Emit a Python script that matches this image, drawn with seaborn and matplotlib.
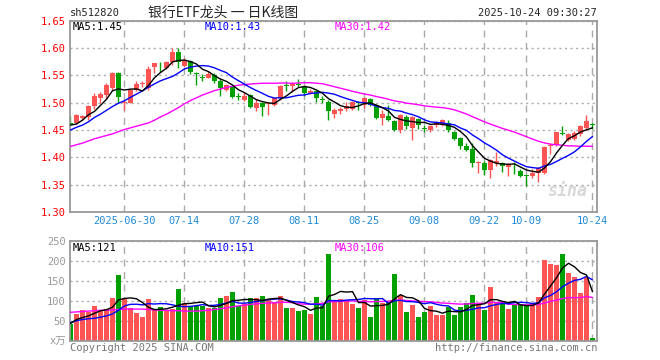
import numpy as np
import pandas as pd
import matplotlib
matplotlib.use("Agg")
import matplotlib.pyplot as plt
import seaborn as sns

# daily candles 2025-06-17 .. 2025-10-24 (88 trading days)
opens = [1.463, 1.463, 1.472, 1.474, 1.494, 1.508, 1.514, 1.527, 1.554, 1.500,
         1.500, 1.524, 1.534, 1.527, 1.565, 1.573, 1.563, 1.574, 1.593, 1.567,
         1.576, 1.554, 1.546, 1.546, 1.550, 1.539, 1.524, 1.528, 1.512, 1.505,
         1.514, 1.490, 1.500, 1.498, 1.496, 1.508, 1.532, 1.530, 1.534, 1.528,
         1.518, 1.522, 1.507, 1.502, 1.480, 1.484, 1.488, 1.488, 1.501, 1.496,
         1.507, 1.495, 1.472, 1.476, 1.466, 1.450, 1.473, 1.453, 1.470, 1.454,
         1.450, 1.459, 1.461, 1.463, 1.446, 1.435, 1.420, 1.415, 1.389, 1.390,
         1.376, 1.389, 1.390, 1.383, 1.381, 1.375, 1.367, 1.366, 1.371, 1.372,
         1.421, 1.423, 1.444, 1.431, 1.434, 1.442, 1.454, 1.461]
highs = [1.475, 1.479, 1.478, 1.495, 1.518, 1.520, 1.536, 1.556, 1.557, 1.505,
         1.525, 1.539, 1.539, 1.568, 1.573, 1.575, 1.576, 1.600, 1.600, 1.582,
         1.579, 1.556, 1.553, 1.558, 1.555, 1.543, 1.534, 1.530, 1.517, 1.520,
         1.516, 1.507, 1.501, 1.500, 1.509, 1.533, 1.540, 1.537, 1.544, 1.530,
         1.525, 1.524, 1.512, 1.505, 1.490, 1.492, 1.502, 1.503, 1.503, 1.510,
         1.509, 1.498, 1.486, 1.496, 1.468, 1.479, 1.478, 1.476, 1.472, 1.460,
         1.460, 1.466, 1.470, 1.469, 1.449, 1.437, 1.426, 1.426, 1.393, 1.393,
         1.397, 1.409, 1.392, 1.389, 1.392, 1.378, 1.367, 1.378, 1.383, 1.421,
         1.427, 1.446, 1.458, 1.445, 1.448, 1.460, 1.477, 1.462]
lows = [1.460, 1.461, 1.468, 1.468, 1.488, 1.500, 1.506, 1.524, 1.500, 1.487,
        1.499, 1.521, 1.528, 1.524, 1.555, 1.557, 1.561, 1.569, 1.564, 1.565,
        1.552, 1.532, 1.540, 1.545, 1.536, 1.513, 1.521, 1.508, 1.505, 1.503,
        1.491, 1.484, 1.476, 1.478, 1.494, 1.505, 1.522, 1.520, 1.528, 1.512,
        1.515, 1.502, 1.500, 1.469, 1.472, 1.480, 1.484, 1.486, 1.486, 1.490,
        1.494, 1.470, 1.459, 1.466, 1.449, 1.445, 1.452, 1.432, 1.451, 1.446,
        1.447, 1.455, 1.458, 1.446, 1.432, 1.416, 1.411, 1.382, 1.372, 1.368,
        1.363, 1.384, 1.374, 1.365, 1.370, 1.364, 1.347, 1.362, 1.354, 1.370,
        1.407, 1.420, 1.440, 1.429, 1.432, 1.439, 1.450, 1.452]
closes = [1.461, 1.477, 1.476, 1.494, 1.512, 1.516, 1.533, 1.554, 1.511, 1.502,
          1.524, 1.535, 1.535, 1.562, 1.572, 1.572, 1.574, 1.593, 1.575, 1.576,
          1.557, 1.553, 1.545, 1.553, 1.539, 1.526, 1.532, 1.511, 1.510, 1.513,
          1.493, 1.500, 1.493, 1.499, 1.508, 1.531, 1.531, 1.535, 1.533, 1.518,
          1.522, 1.508, 1.505, 1.484, 1.487, 1.489, 1.494, 1.502, 1.499, 1.508,
          1.496, 1.472, 1.479, 1.469, 1.450, 1.477, 1.458, 1.473, 1.460, 1.452,
          1.458, 1.464, 1.468, 1.450, 1.434, 1.420, 1.414, 1.389, 1.392, 1.376,
          1.395, 1.393, 1.384, 1.388, 1.380, 1.366, 1.366, 1.372, 1.380, 1.419,
          1.423, 1.446, 1.442, 1.442, 1.445, 1.457, 1.466, 1.460]
# volume in 万 (10k)
volumes = [43, 66, 76, 72, 86, 74, 80, 106, 164, 104,
           81, 69, 59, 104, 76, 84, 76, 79, 129, 94,
           88, 86, 86, 82, 81, 106, 111, 121, 86, 91,
           106, 108, 111, 104, 98, 111, 81, 83, 74, 76,
           66, 109, 86, 218, 99, 104, 101, 91, 81, 101,
           59, 106, 94, 96, 166, 114, 71, 89, 59, 71,
           86, 64, 64, 85, 64, 84, 94, 114, 94, 76,
           134, 96, 91, 79, 91, 91, 86, 94, 109, 203,
           191, 189, 216, 169, 159, 119, 159, 6]

# moving-average values before enough history exists
ma5_head = [1.459, 1.461, 1.468, 1.478]
ma10_head = [1.450, 1.455, 1.459, 1.465, 1.473, 1.479, 1.486, 1.493, 1.499]
ma30_head = [1.420, 1.423, 1.426, 1.430, 1.434, 1.437, 1.440, 1.443, 1.447, 1.451,
             1.454, 1.457, 1.460, 1.463, 1.468, 1.474, 1.479, 1.485, 1.491, 1.498,
             1.504, 1.509, 1.514, 1.518, 1.522, 1.525, 1.528, 1.530, 1.532]
vma5_head = [43, 53, 58, 62]
vma10_head = [45, 50, 53, 55, 56, 59, 62, 67, 76]
vma30_head = [71, 72, 73, 74, 75, 76, 76, 77, 78, 79,
              79, 79, 79, 78, 77, 76, 76, 75, 75, 74,
              74, 74, 75, 76, 78, 80, 82, 85, 87]

tick_pos = [9, 19, 29, 39, 49, 59, 69, 76, 87]
tick_labels = ["2025-06-30", "07-14", "07-28", "08-11", "08-25",
               "09-08", "09-22", "10-09", "10-24"]

RED = "#ff5454"
GREEN = "#00a000"
GRID = "#aaaaaa"
FRAME = "#999999"
BLUE_TXT = "#1f8ad6"


def moving(values, n, head):
    s = pd.Series(values, dtype=float).rolling(n).mean()
    s.iloc[:len(head)] = head
    return s


df = pd.DataFrame({"open": opens, "high": highs, "low": lows,
                   "close": closes, "vol": volumes})
df["i"] = np.arange(len(df))
df["up"] = df["close"] >= df["open"]
df["color"] = np.where(df["up"], RED, GREEN)
df.loc[df["close"] == df["open"], "color"] = RED
df["ma5"] = moving(closes, 5, ma5_head)
df["ma10"] = moving(closes, 10, ma10_head)
df["ma30"] = moving(closes, 30, ma30_head)
df["vma5"] = moving(volumes, 5, vma5_head)
df["vma10"] = moving(volumes, 10, vma10_head)
df["vma30"] = moving(volumes, 30, vma30_head)

sns.set_style("white")
plt.rcParams["font.family"] = ["DejaVu Sans Mono", "Noto Sans CJK SC"]

W, H = 660, 360
fig = plt.figure(figsize=(W / 100, H / 100), dpi=100)
ax = fig.add_axes([70 / W, 1 - 212 / H, 527 / W, 191.3 / H])
axv = fig.add_axes([70 / W, 1 - 340.7 / H, 527 / W, 100 / H])

xlim = (-0.08, 87.75)

# candles
ax.vlines(df["i"], df["low"], df["high"], colors=df["color"], linewidth=1, zorder=2)
body_lo = df[["open", "close"]].min(axis=1)
body_h = (df["close"] - df["open"]).abs().clip(lower=0.0012)
ax.bar(df["i"], body_h, bottom=body_lo, width=0.7, color=df["color"],
       linewidth=0, zorder=3)

sns.lineplot(x=df["i"], y=df["ma30"], ax=ax, color="#ff00ff", linewidth=1, zorder=4)
sns.lineplot(x=df["i"], y=df["ma10"], ax=ax, color="#0000ff", linewidth=1, zorder=4)
sns.lineplot(x=df["i"], y=df["ma5"], ax=ax, color="black", linewidth=1, zorder=4)

ax.set_xlim(*xlim)
ax.set_ylim(1.30, 1.65)
yt = np.round(np.arange(1.30, 1.651, 0.05), 2)
ax.set_yticks(yt)
ax.set_yticklabels([f"{v:.2f}" for v in yt], color="red", fontsize=7.5)
ax.set_xticks(tick_pos)
ax.set_xticklabels(tick_labels, color=BLUE_TXT, fontsize=7.5)
ax.tick_params(length=0, pad=3)
ax.set_xlabel("")
ax.set_ylabel("")
ax.grid(axis="y", linestyle=(0, (1.5, 2.5)), color=GRID, linewidth=1)
ax.grid(axis="x", linestyle=(0, (5, 4)), color=GRID, linewidth=1)

ax.text(3 / 527, 0.965, "MA5:1.45", transform=ax.transAxes, color="black",
        fontsize=7.5, va="center", ha="left")
ax.text(135 / 527, 0.965, "MA10:1.43", transform=ax.transAxes, color="#0000ff",
        fontsize=7.5, va="center", ha="left")
ax.text(265 / 527, 0.965, "MA30:1.42", transform=ax.transAxes, color="#ff00ff",
        fontsize=7.5, va="center", ha="left")
ax.text(86.2, 1.338, "sina", color="#d8d8d8", fontsize=12, fontweight="bold",
        style="italic", ha="right", va="center", zorder=1)

# volume
axv.bar(df["i"], df["vol"], width=0.8, color=df["color"], linewidth=0, zorder=2)
sns.lineplot(x=df["i"], y=df["vma30"], ax=axv, color="#ff00ff", linewidth=1, zorder=4)
sns.lineplot(x=df["i"], y=df["vma10"], ax=axv, color="#0000ff", linewidth=1, zorder=4)
sns.lineplot(x=df["i"], y=df["vma5"], ax=axv, color="black", linewidth=1, zorder=4)
axv.set_xlim(*xlim)
axv.set_ylim(0, 250)
axv.set_yticks([0, 50, 100, 150, 200, 250])
axv.set_yticklabels(["x万", "50", "100", "150", "200", "250"], color="#999999",
                    fontsize=7.5)
axv.set_xticks(tick_pos)
axv.set_xticklabels([])
axv.tick_params(length=0, pad=3)
axv.set_xlabel("")
axv.set_ylabel("")
axv.grid(axis="y", linestyle=(0, (1.5, 2.5)), color=GRID, linewidth=1)
axv.grid(axis="x", linestyle=(0, (5, 4)), color=GRID, linewidth=1)

axv.text(3 / 527, 0.93, "MA5:121", transform=axv.transAxes, color="black",
         fontsize=7.5, va="center", ha="left")
axv.text(135 / 527, 0.93, "MA10:151", transform=axv.transAxes, color="#0000ff",
         fontsize=7.5, va="center", ha="left")
axv.text(265 / 527, 0.93, "MA30:106", transform=axv.transAxes, color="#ff00ff",
         fontsize=7.5, va="center", ha="left")

for a in (ax, axv):
    for sp in a.spines.values():
        sp.set_color(FRAME)
        sp.set_linewidth(1.3)
        sp.set_visible(True)

# header and footer
fig.text(70 / W, 1 - 13 / H, "sh512820", fontsize=7.5, ha="left", va="center")
fig.text(223 / W, 1 - 13 / H, "银行ETF龙头 一 日K线图", fontsize=10, ha="center",
         va="center", family=["Noto Sans CJK SC", "DejaVu Sans"])
fig.text(597 / W, 1 - 13 / H, "2025-10-24 09:30:27", fontsize=7.5, ha="right",
         va="center")
fig.text(70 / W, 1 - 348 / H, "Copyright 2025 SINA.COM", fontsize=7.5,
         color="#777777", ha="left", va="center")
fig.text(597 / W, 1 - 348 / H, "http://finance.sina.com.cn", fontsize=7.5,
         color="#777777", ha="right", va="center")

fig.savefig("out.png", dpi=100, facecolor="white")
